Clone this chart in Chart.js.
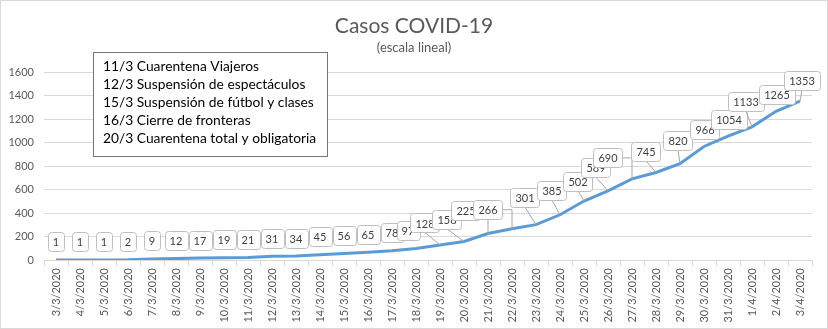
<!DOCTYPE html>
<html>
<head>
<meta charset="utf-8">
<script src="https://cdn.jsdelivr.net/npm/chart.js@4.4.1/dist/chart.umd.min.js"></script>
<style>
  body { margin: 0; background: #fff; }
  canvas { display: block; }
</style>
</head>
<body>
<canvas id="grafico" width="828" height="329"></canvas>
<script>
const fechas = ['3/3/2020','4/3/2020','5/3/2020','6/3/2020','7/3/2020','8/3/2020','9/3/2020','10/3/2020',
  '11/3/2020','12/3/2020','13/3/2020','14/3/2020','15/3/2020','16/3/2020','17/3/2020','18/3/2020',
  '19/3/2020','20/3/2020','21/3/2020','22/3/2020','23/3/2020','24/3/2020','25/3/2020','26/3/2020',
  '27/3/2020','28/3/2020','29/3/2020','30/3/2020','31/3/2020','1/4/2020','2/4/2020','3/4/2020'];
const casos = [1, 1, 1, 2, 9, 12, 17, 19, 21, 31, 34, 45, 56, 65, 78, 97,
  128, 158, 225, 266, 301, 385, 502, 589, 690, 745, 820, 966, 1054, 1133, 1265, 1353];
const eventos = [
  '11/3 Cuarentena Viajeros',
  '12/3 Suspensión de espectáculos',
  '15/3 Suspensión de fútbol y clases',
  '16/3 Cierre de fronteras',
  '20/3 Cuarentena total y obligatoria'
];
const yTicks = [0, 200, 400, 600, 800, 1000, 1200, 1400, 1600];

// where each callout sits relative to its point (dragged by hand in the original)
const despX = [0,0,0,0,0,0,0,0,0,0,0,0,0,0,0,-8,-15,-17,-22,-24,-11,-8,-6,-12,-24,-10,-2,1,1,-6,1,2];
const despY = [-18,-18,-18,-18,-18,-18,-18,-18,-18,-18,-18,-18,-18,-18,-18,-18,-22,-22,-23,-19,-27,-24,-20,-23,-21,-21,-23,-17,-17,-25,-17,-21];

const GRIS = '#595959';

function cajaRedonda(ctx, x, y, w, h, r) {
  ctx.beginPath();
  ctx.moveTo(x + r, y);
  ctx.lineTo(x + w - r, y);
  ctx.quadraticCurveTo(x + w, y, x + w, y + r);
  ctx.lineTo(x + w, y + h - r);
  ctx.quadraticCurveTo(x + w, y + h, x + w - r, y + h);
  ctx.lineTo(x + r, y + h);
  ctx.quadraticCurveTo(x, y + h, x, y + h - r);
  ctx.lineTo(x, y + r);
  ctx.quadraticCurveTo(x, y, x + r, y);
  ctx.closePath();
}

const fondo = {
  id: 'fondo',
  beforeDraw(chart) {
    const ctx = chart.ctx;
    ctx.save();
    ctx.fillStyle = '#fff';
    ctx.fillRect(0, 0, chart.width, chart.height);
    ctx.strokeStyle = '#d9d9d9';
    ctx.lineWidth = 1;
    ctx.strokeRect(0.5, 0.5, chart.width - 1, chart.height - 1);
    ctx.restore();
  }
};

const etiquetas = {
  id: 'etiquetas',
  afterDatasetsDraw(chart) {
    const ctx = chart.ctx;
    const meta = chart.getDatasetMeta(0);
    ctx.save();
    ctx.font = '11px Lato';
    meta.data.forEach((pt, i) => {
      const txt = String(casos[i]);
      const w = ctx.measureText(txt).width + 10, h = 19;
      const cx = pt.x + despX[i], cy = pt.y + despY[i];
      const l = cx - w / 2, t = cy - h / 2, r = cx + w / 2, b = cy + h / 2;
      // leader line, only when the callout is far enough from its point
      if (pt.y - b > 9) {
        ctx.strokeStyle = '#a6a6a6';
        ctx.lineWidth = 1;
        ctx.beginPath();
        if (pt.x > r + 5) {
          ctx.moveTo(r, cy);
          ctx.lineTo(pt.x, cy);
          ctx.lineTo(pt.x, pt.y);
        } else {
          ctx.moveTo(cx, b);
          ctx.lineTo(pt.x, pt.y);
        }
        ctx.stroke();
      }
      cajaRedonda(ctx, Math.round(l) + 0.5, Math.round(t) + 0.5, Math.round(w), h, 3);
      ctx.fillStyle = '#fff';
      ctx.fill();
      ctx.strokeStyle = '#bfbfbf';
      ctx.lineWidth = 1;
      ctx.stroke();
      ctx.fillStyle = '#404040';
      ctx.textAlign = 'center';
      ctx.textBaseline = 'middle';
      ctx.fillText(txt, cx, cy + 1);
    });
    ctx.restore();
  },
  afterDraw(chart) {
    const ctx = chart.ctx;
    ctx.save();
    // title
    ctx.fillStyle = GRIS;
    ctx.textAlign = 'center';
    ctx.textBaseline = 'alphabetic';
    ctx.font = '21px Lato';
    ctx.fillText('Casos COVID-19', chart.width / 2, 33);
    ctx.font = '13px Lato';
    ctx.fillText('(escala lineal)', chart.width / 2, 52);
    // notes box
    ctx.fillStyle = '#fff';
    ctx.fillRect(93, 52, 234, 104);
    ctx.strokeStyle = '#767676';
    ctx.lineWidth = 1;
    ctx.strokeRect(93.5, 52.5, 234, 104);
    ctx.fillStyle = '#000';
    ctx.textAlign = 'left';
    ctx.textBaseline = 'middle';
    ctx.font = '13.8px Lato';
    eventos.forEach((e, i) => ctx.fillText(e, 103, 67 + i * 18));
    ctx.restore();
  }
};

new Chart(document.getElementById('grafico'), {
  type: 'line',
  data: {
    labels: fechas,
    datasets: [{
      data: casos,
      borderColor: '#5b9bd5',
      borderWidth: 3,
      pointRadius: 0,
      tension: 0,
      fill: false
    }]
  },
  options: {
    responsive: false,
    animation: false,
    devicePixelRatio: 1,
    layout: { padding: { top: 72, right: 16, bottom: 0, left: 0 } },
    plugins: { legend: { display: false }, tooltip: { enabled: false } },
    scales: {
      x: {
        offset: true,
        grid: { offset: true, drawOnChartArea: false, drawTicks: true, tickLength: 6, color: '#d9d9d9' },
        border: { color: '#d9d9d9' },
        ticks: { minRotation: 90, maxRotation: 90, autoSkip: false, padding: 2, color: GRIS, font: { family: 'Lato', size: 11 } },
        afterFit(s) { s.height = 69; }
      },
      y: {
        min: 0, max: 1600,
        afterBuildTicks(s) { s.ticks = yTicks.map(v => ({ value: v })); },
        grid: { color: '#d9d9d9', drawTicks: false },
        border: { display: false },
        ticks: { padding: 10, color: GRIS, font: { family: 'Lato', size: 11 }, callback: v => String(v) },
        afterFit(s) { s.width = 44; }
      }
    }
  },
  plugins: [fondo, etiquetas]
});
</script>
</body>
</html>
